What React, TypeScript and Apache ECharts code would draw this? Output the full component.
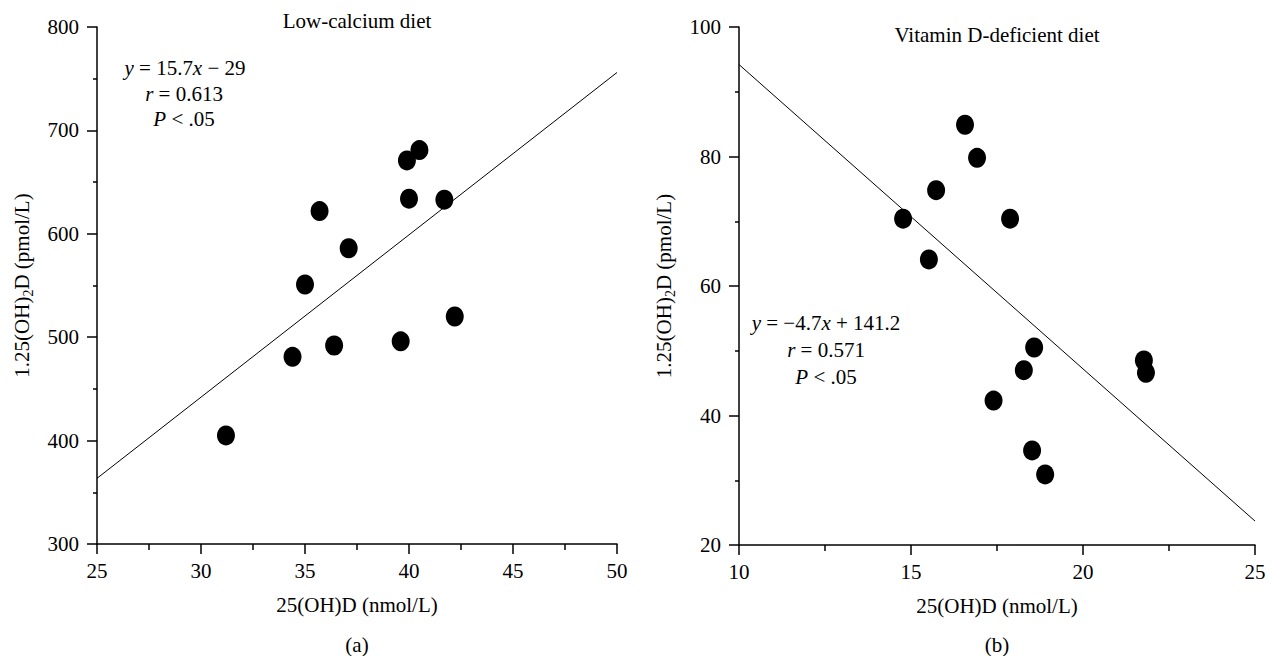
import React, { useEffect, useRef } from 'react';
import * as echarts from 'echarts';

// Panel (a): Low-calcium diet
const lowCaX = [40.5, 39.9, 40.0, 41.7, 35.7, 37.1, 35.0, 42.2, 34.4, 36.4, 39.6, 31.2];
const lowCaY = [681, 671, 634, 633, 622, 586, 551, 520, 481, 492, 496, 405];
const lowCaFitX = [25, 50];
const lowCaFitY = [363.5, 756];

// Panel (b): Vitamin D-deficient diet
const vitDX = [16.57, 16.92, 15.73, 14.77, 17.88, 15.52, 18.58, 18.28, 17.4, 18.52, 18.9, 21.77, 21.83];
const vitDY = [84.9, 79.8, 74.8, 70.4, 70.4, 64.1, 50.5, 47.0, 42.3, 34.6, 30.9, 48.5, 46.6];
const vitDFitX = [10, 25];
const vitDFitY = [94.2, 23.7];

const titles = ['Low-calcium diet', 'Vitamin D-deficient diet'];
const panelLabels = ['(a)', '(b)'];
const xName = '25(OH)D (nmol/L)';
const yName = '{n|1.25(OH)}{sub|2}{n|D (pmol/L)}';
const annotA = ['{i|y} = 15.7{i|x} \u2212 29', '{i|r} = 0.613', '{i|P} < .05'];
const annotB = ['{i|y} = \u22124.7{i|x} + 141.2', '{i|r} = 0.571', '{i|P} < .05'];

const FONT = "'Liberation Serif', 'DejaVu Serif', 'Times New Roman', serif";
const FS = 21;

function pairs(xs: number[], ys: number[]) {
  return xs.map((x, i) => [x, ys[i]]);
}

function xAxis(gridIndex: number, min: number, max: number, interval: number) {
  return {
    type: 'value',
    gridIndex,
    min,
    max,
    interval,
    name: xName,
    nameLocation: 'middle',
    nameGap: 50,
    nameTextStyle: { fontFamily: FONT, fontSize: FS, color: '#000' },
    axisLine: { show: true, onZero: false, lineStyle: { color: '#000', width: 1.5 } },
    axisTick: { show: true, inside: false, length: 10, lineStyle: { color: '#000', width: 1.5 } },
    minorTick: { show: true, splitNumber: 2, length: 6, lineStyle: { color: '#000', width: 1.5 } },
    axisLabel: { fontFamily: FONT, fontSize: FS, color: '#000', margin: 16, showMinLabel: true, showMaxLabel: true },
    splitLine: { show: false },
    minorSplitLine: { show: false },
  };
}

function yAxis(gridIndex: number, min: number, max: number, interval: number) {
  return {
    type: 'value',
    gridIndex,
    min,
    max,
    interval,
    name: yName,
    nameLocation: 'middle',
    nameGap: 62,
    nameTextStyle: {
      fontFamily: FONT,
      fontSize: FS,
      color: '#000',
      rich: {
        n: { fontFamily: FONT, fontSize: FS, color: '#000', lineHeight: 26, verticalAlign: 'middle' },
        sub: { fontFamily: FONT, fontSize: 14, color: '#000', lineHeight: 14, verticalAlign: 'bottom' },
      },
    },
    axisLine: { show: true, onZero: false, lineStyle: { color: '#000', width: 1.5 } },
    axisTick: { show: true, inside: false, length: 10, lineStyle: { color: '#000', width: 1.5 } },
    minorTick: { show: true, splitNumber: 2, length: 4, lineStyle: { color: '#000', width: 1.5 } },
    axisLabel: { fontFamily: FONT, fontSize: FS, color: '#000', margin: 18, showMinLabel: true, showMaxLabel: true },
    splitLine: { show: false },
    minorSplitLine: { show: false },
  };
}

function txt(text: string, x: number, y: number) {
  return {
    type: 'text',
    x,
    y,
    silent: true,
    style: {
      text,
      fill: '#000',
      fontFamily: FONT,
      fontSize: FS,
      align: 'center',
      verticalAlign: 'middle',
      rich: {
        i: { fontFamily: FONT, fontSize: FS, fontStyle: 'italic', fill: '#000' },
      },
    },
  };
}

export default function App() {
  const ref = useRef<HTMLDivElement>(null);

  useEffect(() => {
    if (!ref.current) return;
    const chart = echarts.init(ref.current, null, { renderer: 'svg' });
    const option: any = {
      animation: false,
      backgroundColor: '#fff',
      grid: [
        { left: 97, top: 27, width: 520, height: 517 },
        { left: 739, top: 27, width: 516, height: 518 },
      ],
      xAxis: [xAxis(0, 25, 50, 5), xAxis(1, 10, 25, 5)],
      yAxis: [yAxis(0, 300, 800, 100), yAxis(1, 20, 100, 20)],
      series: [
        {
          type: 'line',
          xAxisIndex: 0,
          yAxisIndex: 0,
          data: pairs(lowCaFitX, lowCaFitY),
          symbol: 'none',
          lineStyle: { color: '#000', width: 1 },
          silent: true,
        },
        {
          type: 'scatter',
          xAxisIndex: 0,
          yAxisIndex: 0,
          data: pairs(lowCaX, lowCaY),
          symbol: 'circle',
          symbolSize: [18, 20],
          itemStyle: { color: '#000', opacity: 1 },
        },
        {
          type: 'line',
          xAxisIndex: 1,
          yAxisIndex: 1,
          data: pairs(vitDFitX, vitDFitY),
          symbol: 'none',
          lineStyle: { color: '#000', width: 1 },
          silent: true,
        },
        {
          type: 'scatter',
          xAxisIndex: 1,
          yAxisIndex: 1,
          data: pairs(vitDX, vitDY),
          symbol: 'circle',
          symbolSize: [18, 20],
          itemStyle: { color: '#000', opacity: 1 },
        },
      ],
      graphic: [
        txt(titles[0], 357, 21),
        txt(titles[1], 997, 35),
        txt(panelLabels[0], 357, 645),
        txt(panelLabels[1], 997, 645),
        txt(annotA[0], 185, 68),
        txt(annotA[1], 184, 94),
        txt(annotA[2], 184, 119),
        txt(annotB[0], 826, 323),
        txt(annotB[1], 826, 350),
        txt(annotB[2], 826, 377),
      ],
    };
    chart.setOption(option);
    return () => chart.dispose();
  }, []);

  return (
    <div
      ref={ref}
      style={{ position: 'fixed', left: 0, top: 0, width: 1273, height: 656, background: '#fff' }}
    />
  );
}
